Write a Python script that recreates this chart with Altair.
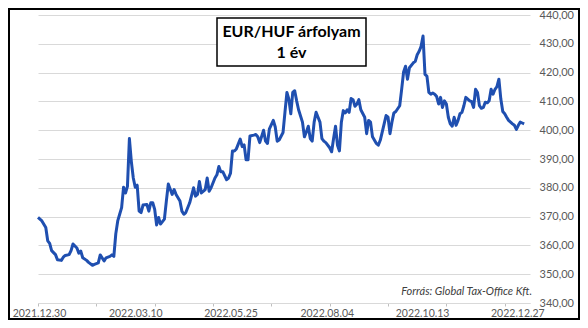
import altair as alt
import pandas as pd

# trading-day index and EUR/HUF rate
day_idx = [0, 2, 4, 5, 6, 7, 9, 10, 12, 13, 14, 16, 17, 18, 20, 21, 22, 23, 25, 26,
           28, 29, 31, 32, 34, 35, 37, 38, 39, 40, 41, 42, 43, 44, 45, 46, 47, 48, 49, 50,
           51, 52, 53, 54, 56, 57, 58, 59, 60, 61, 62, 63, 65, 66, 67, 69, 70, 71, 73, 74,
           75, 76, 78, 80, 81, 82, 83, 84, 86, 87, 88, 89, 91, 92, 93, 94, 95, 97, 98, 99,
           100, 101, 102, 104, 105, 106, 107, 108, 109, 111, 112, 113, 114, 116, 117, 118, 119, 121, 122, 123,
           124, 126, 127, 128, 129, 130, 131, 132, 133, 134, 136, 137, 138, 139, 140, 141, 142, 143, 144, 145,
           146, 147, 148, 150, 151, 152, 153, 154, 155, 156, 157, 158, 159, 160, 161, 162, 163, 164, 165, 166,
           168, 169, 170, 171, 172, 174, 175, 176, 178, 179, 180, 181, 182, 183, 184, 186, 187, 188, 189, 190,
           191, 193, 194, 195, 196, 197, 198, 199, 200, 201, 202, 203, 204, 205, 206, 207, 208, 209, 210, 211,
           212, 213, 214, 215, 216, 217, 218, 219, 220, 222, 223, 224, 225, 226, 227, 228, 229, 230, 231, 232,
           233, 234, 235, 236, 237, 238, 239, 240, 241, 242, 243, 244, 245, 246, 247, 248, 249, 250]
rate = [369.7, 368.5, 366.2, 361.6, 360.7, 358.2, 356.8, 355.0, 354.8, 355.9, 356.5, 356.8, 358.2, 360.5, 359.1, 357.3, 358.0, 355.7, 354.8, 354.1,
        353.1, 353.4, 353.9, 356.7, 354.6, 355.7, 356.2, 356.7, 356.2, 364.0, 368.5, 370.8, 373.1, 380.2, 378.2, 380.5, 397.1, 389.1, 383.4, 380.2,
        380.9, 371.9, 371.4, 374.0, 374.2, 371.9, 374.8, 374.8, 372.5, 367.1, 369.7, 367.4, 369.1, 375.4, 381.3, 377.7, 379.4, 377.7, 375.4, 371.9,
        370.8, 371.4, 374.8, 380.0, 377.1, 377.7, 382.2, 378.2, 379.4, 383.4, 378.8, 380.0, 383.4, 384.5, 387.4, 385.6, 385.6, 382.8, 383.4, 385.1,
        392.8, 392.8, 393.5, 396.9, 394.3, 394.9, 389.7, 389.7, 398.0, 398.3, 398.5, 397.7, 395.7, 400.0, 396.2, 395.4, 400.5, 403.4, 401.1, 396.2,
        396.6, 399.2, 406.3, 413.1, 410.8, 405.7, 413.1, 413.7, 410.2, 407.1, 402.8, 397.7, 399.4, 401.4, 397.1, 396.2, 402.8, 406.2, 404.5, 402.8,
        397.1, 396.2, 395.7, 393.9, 392.5, 397.1, 401.4, 394.8, 392.8, 402.8, 406.8, 406.0, 407.1, 406.2, 411.0, 410.6, 408.3, 409.1, 410.6, 407.1,
        404.5, 398.8, 403.4, 402.8, 397.7, 395.4, 394.8, 396.5, 402.2, 405.1, 404.5, 398.8, 402.8, 406.0, 406.5, 408.5, 414.2, 420.2, 422.2, 417.7,
        421.7, 423.4, 423.9, 426.2, 427.4, 429.1, 432.7, 419.4, 418.8, 413.1, 412.5, 412.9, 412.5, 411.7, 409.1, 411.4, 407.9, 410.2, 409.1, 404.5,
        402.2, 401.4, 404.5, 401.7, 403.4, 405.7, 406.2, 408.5, 411.4, 410.2, 409.9, 407.9, 414.2, 413.1, 408.5, 407.6, 407.9, 409.7, 409.5, 410.2,
        414.2, 412.5, 414.2, 415.1, 417.7, 410.8, 406.5, 405.7, 404.5, 403.4, 402.8, 402.2, 401.7, 400.3, 401.7, 402.8, 402.5, 402.2]

# x-axis: tick marks every 30 trading days, date labels roughly every 49 days
tick_idx = [0, 30, 60, 90, 120, 150, 180, 210, 240]
label_idx = [0.5, 50, 99, 148.5, 197.5, 246.5]
label_text = ["2021.12.30", "2022.03.10", "2022.05.25", "2022.08.04", "2022.10.13", "2022.12.27"]
y_ticks = [340, 350, 360, 370, 380, 390, 400, 410, 420, 430, 440]

title_lines = ["EUR/HUF árfolyam", "1 év"]
source_text = "Forrás: Global Tax-Office Kft."

df = pd.DataFrame({"i": day_idx, "rate": rate})

FONT = "Lato"
W, H = 492, 288

idx_js = "[" + ",".join(str(v) for v in label_idx) + "]"
txt_js = "[" + ",".join("'" + t + "'" for t in label_text) + "]"
label_expr = f"indexof({idx_js}, datum.value) >= 0 ? {txt_js}[indexof({idx_js}, datum.value)] : ''"

x_axis = alt.Axis(
    values=sorted(set(tick_idx + label_idx)),
    labelExpr=label_expr,
    grid=False,
    domain=True, domainColor="#d9d9d9", domainWidth=1.2,
    tickColor="#bfbfbf", tickSize=3, tickWidth=1,
    tickOpacity={"condition": {"test": "datum.value % 30 === 0", "value": 1}, "value": 0},
    labelFont=FONT, labelFontSize=10.5, labelColor="#595959",
    labelPadding=2, labelOverlap=False, labelFlush=False, title=None,
)
y_axis = alt.Axis(
    orient="right", values=y_ticks,
    labelExpr="replace(format(datum.value, '.2f'), '.', ',')",
    grid=True, gridColor="#d9d9d9", gridWidth=1.2,
    domain=False, ticks=False,
    labelFont=FONT, labelFontSize=11, labelColor="#595959",
    labelPadding=9, labelAlign="left", title=None,
)

x_enc = alt.X("i:Q", scale=alt.Scale(domain=[0, 253], nice=False, zero=False), axis=x_axis)
y_enc = alt.Y("rate:Q", scale=alt.Scale(domain=[340, 440], nice=False, zero=False), axis=y_axis)

line = alt.Chart(df).mark_line(color="#1f4fb0", strokeWidth=3, strokeJoin="round").encode(x=x_enc, y=y_enc)

one = alt.Chart(pd.DataFrame({"a": [0]}))
frame = one.mark_rect(fill="transparent", stroke="#000000", strokeWidth=2).encode(
    x=alt.value(-29), x2=alt.value(541), y=alt.value(-6), y2=alt.value(304))
box = one.mark_rect(fill="#ffffff", stroke="#000000", strokeWidth=1.5).encode(
    x=alt.value(179), x2=alt.value(328), y=alt.value(3), y2=alt.value(51))
t1 = alt.Chart(pd.DataFrame({"t": [title_lines[0]]})).mark_text(
    font=FONT, fontSize=16, fontWeight="bold", color="#000000", align="center", baseline="middle"
).encode(text="t:N", x=alt.value(253.5), y=alt.value(17))
t2 = alt.Chart(pd.DataFrame({"t": [title_lines[1]]})).mark_text(
    font=FONT, fontSize=16, fontWeight="bold", color="#000000", align="center", baseline="middle"
).encode(text="t:N", x=alt.value(253.5), y=alt.value(38))
src = alt.Chart(pd.DataFrame({"t": [source_text]})).mark_text(
    font=FONT, fontSize=11, fontStyle="italic", color="#404040", align="right", baseline="middle"
).encode(text="t:N", x=alt.value(494), y=alt.value(277))

chart = alt.layer(line, frame, box, t1, t2, src).properties(
    width=W, height=H,
    autosize=alt.AutoSizeParams(type="none"),
    padding={"left": 30, "top": 7, "right": 50, "bottom": 17},
    background="#ffffff",
).configure_view(stroke=None)

chart.save("out.html", embed_options={"renderer": "svg", "actions": False})
